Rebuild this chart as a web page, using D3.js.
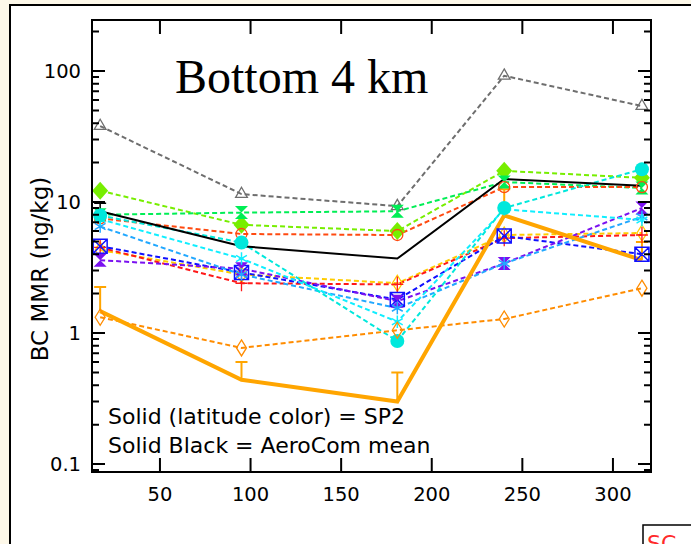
<!DOCTYPE html>
<html>
<head>
<meta charset="utf-8">
<script src="https://cdn.jsdelivr.net/npm/d3@7"></script>
<style>
  body { margin: 0; background: #fdf8e9; }
  svg { display: block; }
  text { font-family: "DejaVu Sans", sans-serif; }
</style>
</head>
<body>
<svg id="chart" width="691" height="544"></svg>
<script>
// x positions of the five bins
const xBins = [17, 95, 181, 240, 316];

// model / obs series (ng/kg)
const grayTri     = [38, 11.5, 9.3, 92, 54];
const limeDiamond = [12.2, 6.7, 6.0, 17.3, 15.3];
const greenHour   = [8.0, 8.3, 8.5, 14.2, 12.8];
const redOrCircle = [7.5, 5.7, 5.6, 13.0, 13.0];
const cyanCircle  = [7.9, 4.9, 0.87, 9.0, 17.8];
const cyanStar    = [7.4, 3.7, 1.22, 8.8, 7.3];
const skyStar     = [6.5, 2.8, 1.55, 3.4, 7.7];
const yellowDiam  = [4.3, 2.8, 2.4, 5.6, 5.8];
const redPlus     = [4.5, 2.4, 2.35, 5.3, 5.6];
const blueSquare  = [4.6, 2.9, 1.8, 5.5, 4.0];
const purpleHour  = [3.6, 3.1, 1.75, 3.4, 9.0];
const orangeDiam  = [1.32, 0.77, 1.05, 1.28, 2.2];
const aeroMean    = [8.5, 4.6, 3.7, 15.0, 13.3];
const aeroMeanHi  = [9.8, null, null, 17.5, null];
const sp2         = [1.47, 0.44, 0.30, 7.9, 3.6];
const sp2Hi       = [2.25, 0.60, 0.50, 12.5, 4.95];

const xTicks = [50, 100, 150, 200, 250, 300];
const yMajor = [0.1, 1, 10, 100];

const dashed = [
  {vals: grayTri,     color: '#6e6e6e', mark: 'triangle'},
  {vals: limeDiamond, color: '#77ee00', mark: 'diamondFill'},
  {vals: greenHour,   color: '#00ee55', mark: 'hour'},
  {vals: redOrCircle, color: '#ff4a10', mark: 'circleOpen'},
  {vals: yellowDiam,  color: '#ffcc00', mark: 'diamondOpen'},
  {vals: redPlus,     color: '#ff1818', mark: 'plus'},
  {vals: blueSquare,  color: '#1010ff', mark: 'squareX'},
  {vals: purpleHour,  color: '#7a10f0', mark: 'hour'},
  {vals: skyStar,     color: '#22a8ff', mark: 'star'},
  {vals: cyanStar,    color: '#10eeff', mark: 'star'},
  {vals: cyanCircle,  color: '#00e8dc', mark: 'circleFill'},
  {vals: orangeDiam,  color: '#ff8c00', mark: 'diamondOpen'}
];

const svg = d3.select('#chart');

// page panel
svg.append('rect').attr('x', 10).attr('y', 6).attr('width', 691).attr('height', 544).attr('fill', '#fff');
svg.append('path').attr('d', 'M10,544V5H691').attr('fill', 'none').attr('stroke', '#000').attr('stroke-width', 2);

const x = d3.scaleLinear().domain([12.5, 321]).range([92, 651]);
const y = d3.scaleLog().domain([0.087, 245]).range([472, 20]);

const pts = vals => vals.map((v, i) => [xBins[i], v]);
const line = d3.line().x(d => x(d[0])).y(d => y(d[1]));

// dashed model lines
const gLines = svg.append('g');
dashed.forEach(s => {
  gLines.append('path')
    .attr('d', line(pts(s.vals)))
    .attr('fill', 'none')
    .attr('stroke', s.color)
    .attr('stroke-width', 2)
    .attr('stroke-dasharray', '5,3');
});

// AeroCom mean
svg.append('path')
  .attr('d', line(pts(aeroMean)))
  .attr('fill', 'none').attr('stroke', '#000').attr('stroke-width', 2);

// SP2 observations
svg.append('path')
  .attr('d', line(pts(sp2)))
  .attr('fill', 'none').attr('stroke', '#ffa500').attr('stroke-width', 4)
  .attr('stroke-linejoin', 'miter');

function errBars(vals, hi, color, w){
  const g = svg.append('g').attr('stroke', color).attr('stroke-width', w).attr('fill', 'none');
  vals.forEach((v, i) => {
    if (hi[i] == null) return;
    const cx = x(xBins[i]);
    g.append('path').attr('d', `M${cx},${y(v)}V${y(hi[i])}M${cx - 6},${y(hi[i])}H${cx + 6}`);
  });
}
errBars(sp2, sp2Hi, '#ffa500', 2);
errBars(aeroMean, aeroMeanHi, '#000', 1.5);

// markers
function hourPath(r){
  return `M${-r},${-r}L${r},${-r}L${-r},${r}L${r},${r}Z`;
}
function drawMark(g, kind, color){
  if (kind === 'triangle') {
    g.append('path').attr('d', d3.symbol(d3.symbolTriangle, 60)()).attr('fill', 'none').attr('stroke', color).attr('stroke-width', 1.3);
  } else if (kind === 'diamondFill') {
    g.append('path').attr('d', 'M0,-9L8,0L0,9L-8,0Z').attr('fill', color);
  } else if (kind === 'diamondOpen') {
    g.append('path').attr('d', 'M0,-8L5,0L0,8L-5,0Z').attr('fill', 'none').attr('stroke', color).attr('stroke-width', 1.3);
  } else if (kind === 'hour') {
    g.append('path').attr('d', hourPath(6.5)).attr('fill', color);
  } else if (kind === 'circleOpen') {
    g.append('circle').attr('r', 5.5).attr('fill', 'none').attr('stroke', color).attr('stroke-width', 1.3);
  } else if (kind === 'circleFill') {
    g.append('circle').attr('r', 7).attr('fill', color);
  } else if (kind === 'plus') {
    g.append('path').attr('d', 'M0,-8V8M-6,0H6').attr('stroke', color).attr('stroke-width', 1.3);
  } else if (kind === 'squareX') {
    g.append('path').attr('d', 'M-7,-7H7V7H-7ZM-7,-7L7,7M7,-7L-7,7').attr('fill', 'none').attr('stroke', color).attr('stroke-width', 1.5);
  } else if (kind === 'star') {
    g.append('path').attr('d', d3.symbol(d3.symbolAsterisk, 110)()).attr('fill', 'none').attr('stroke', color).attr('stroke-width', 1.5);
  }
}
const gMarks = svg.append('g');
dashed.forEach(s => {
  s.vals.forEach((v, i) => {
    const g = gMarks.append('g').attr('transform', `translate(${x(xBins[i])},${y(v)})`);
    drawMark(g, s.mark, s.color);
  });
});

// frame and ticks
const frame = svg.append('g').attr('stroke', '#000').attr('stroke-width', 2).attr('fill', 'none');
frame.append('rect').attr('x', 92).attr('y', 20).attr('width', 559).attr('height', 452);
xTicks.forEach(t => {
  const px = x(t);
  frame.append('path').attr('d', `M${px},472v-14M${px},20v14`);
});
const yAll = y.ticks(20).filter(t => t >= 0.087 && t <= 245);
yAll.forEach(t => {
  const major = yMajor.includes(t);
  const len = major ? 13 : 7;
  const py = y(t);
  frame.append('path').attr('d', `M92,${py}h${len}M651,${py}h${-len}`);
});

// tick labels
svg.append('g').selectAll('text').data(xTicks).join('text')
  .attr('x', d => x(d)).attr('y', 501)
  .attr('text-anchor', 'middle').attr('font-size', 19.5)
  .text(d => d);
svg.append('g').selectAll('text').data(yMajor).join('text')
  .attr('x', 81).attr('y', d => y(d) + 7)
  .attr('text-anchor', 'end').attr('font-size', 19.5)
  .text(d => d);

svg.append('text')
  .attr('transform', 'translate(48,269) rotate(-90)')
  .attr('text-anchor', 'middle').attr('font-size', 23)
  .text('BC MMR (ng/kg)');

svg.append('text')
  .attr('x', 175).attr('y', 93)
  .style('font-family', '"Liberation Serif", serif')
  .attr('font-size', 48)
  .text('Bottom 4 km');

svg.append('text').attr('x', 108).attr('y', 424).attr('font-size', 22)
  .text('Solid (latitude color) = SP2');
svg.append('text').attr('x', 108).attr('y', 453).attr('font-size', 22)
  .text('Solid Black = AeroCom mean');

// corner label box, cut by the page edge as in the original
svg.append('rect').attr('x', 643).attr('y', 525).attr('width', 60).attr('height', 40)
  .attr('fill', '#fff').attr('stroke', '#000').attr('stroke-width', 1.5);
svg.append('text').attr('x', 647).attr('y', 551).attr('font-size', 22).attr('fill', '#ff2a2a')
  .text('SC');
</script>
</body>
</html>
